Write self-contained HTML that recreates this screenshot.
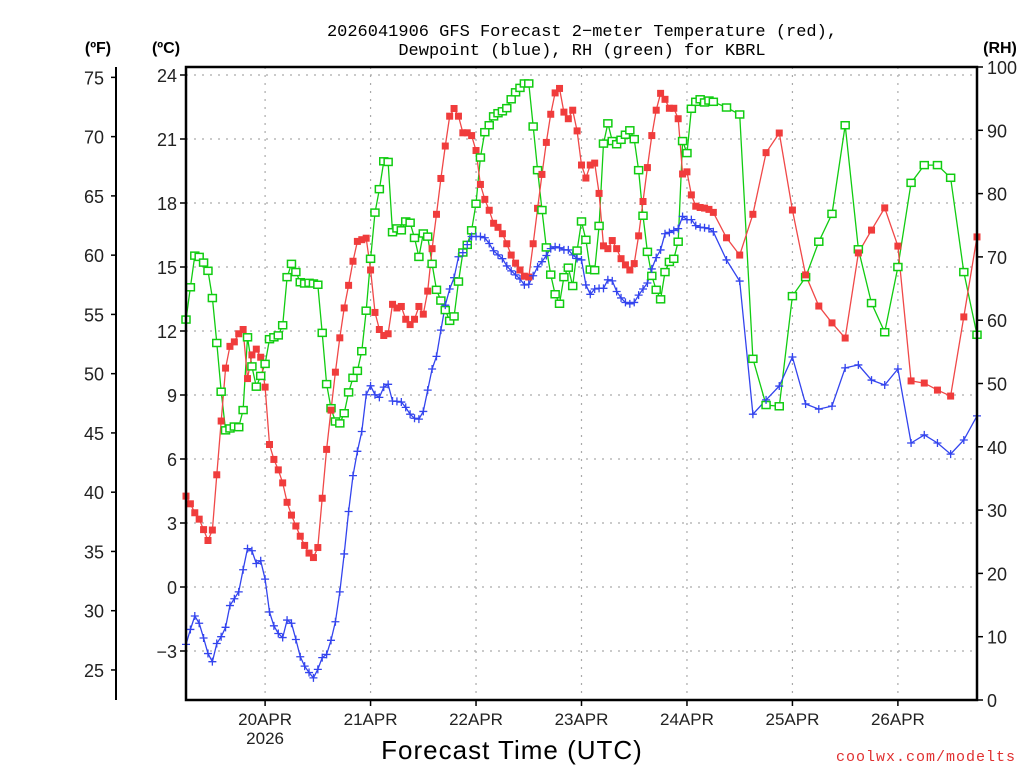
<!DOCTYPE html>
<html><head><meta charset="utf-8"><style>
html,body{margin:0;padding:0;background:#fff;}
svg{display:block;}
text{font-family:"Liberation Sans",sans-serif;}
</style></head><body>
<svg id="chart" width="1024" height="768" viewBox="0 0 1024 768" xmlns="http://www.w3.org/2000/svg">
<text x="582" y="36" text-anchor="middle" font-size="17" style="font-family:'Liberation Mono',monospace">2026041906 GFS Forecast 2−meter Temperature (red),</text>
<text x="582" y="55" text-anchor="middle" font-size="17" style="font-family:'Liberation Mono',monospace">Dewpoint (blue), RH (green) for KBRL</text>
<text x="98" y="53" text-anchor="middle" font-size="16" font-weight="bold">(ºF)</text>
<text x="166" y="53" text-anchor="middle" font-size="16" font-weight="bold">(ºC)</text>
<text x="1000" y="53" text-anchor="middle" font-size="16" font-weight="bold">(RH)</text>
<text x="512" y="759" text-anchor="middle" font-size="26" letter-spacing="1">Forecast Time (UTC)</text>
<text x="1016" y="761" text-anchor="end" font-size="15" fill="#e03030" letter-spacing="1" style="font-family:'Liberation Mono',monospace">coolwx.com/modelts</text>
<g id="grid"></g>
<g id="series"></g>
<g id="axes"></g>
</svg>
<script>
const dayLabels = ["20APR","21APR","22APR","23APR","24APR","25APR","26APR"];
const celsiusTicks = [-3,0,3,6,9,12,15,18,21,24];
const fahrenheitTicks = [25,30,35,40,45,50,55,60,65,70,75];
const rhTicks = [0,10,20,30,40,50,60,70,80,90,100];
const tempC = [4.26,3.90,3.48,3.18,2.69,2.18,2.67,5.26,7.78,10.26,11.28,11.49,11.87,12.07,9.77,10.88,11.15,10.77,9.37,6.68,5.98,5.49,4.88,3.97,3.37,2.86,2.38,1.95,1.59,1.38,1.85,4.16,6.45,8.29,10.07,11.68,13.08,14.14,15.27,16.2,16.28,16.35,14.86,12.87,12.07,11.79,
11.87,13.25,13.08,13.15,12.55,12.3,12.55,13.15,12.79,13.87,15.86,17.47,19.15,20.67,22.07,22.43,22.07,21.29,21.29,21.16,20.46,18.87,18.17,17.66,17.05,16.86,16.56,16.09,15.56,15.18,14.86,14.57,14.53,16.09,17.75,19.34,20.84,22.16,23.16,23.37,22.26,21.95,22.35,21.38,
19.78,19.17,19.78,19.87,18.45,15.99,15.86,16.24,15.86,15.39,15.1,14.86,15.16,16.46,18.07,19.66,21.16,22.35,23.14,22.86,22.44,22.44,21.95,19.36,19.46,18.38,17.85,17.79,17.76,17.7,17.56,
16.37,15.56,17.47,20.36,21.28,17.67,14.63,13.17,12.38,11.67,15.66,16.73,17.77,15.98,9.66,9.56,9.23,8.95,12.66,16.41];
const dewpointC = [-2.69,-1.99,-1.36,-1.70,-2.39,-3.12,-3.50,-2.65,-2.33,-1.89,-0.87,-0.55,-0.23,0.81,1.80,1.70,1.10,1.23,0.37,-1.17,-1.82,-2.18,-2.37,-1.55,-1.70,-2.46,-3.27,-3.71,-4.01,-4.26,-3.86,-3.31,-3.16,-2.50,-1.63,-0.23,1.55,3.54,5.22,6.36,7.29,9.01,9.43,9.01,8.89,9.37,
9.5,8.72,8.70,8.67,8.42,8.10,7.91,7.87,8.23,9.23,10.22,10.81,12.04,13.21,13.97,14.5,15.48,15.67,16.05,16.43,16.43,16.43,16.37,16.1,15.76,15.57,15.39,15.05,14.82,14.63,14.44,14.16,14.19,14.59,15.01,15.25,15.54,15.86,15.95,15.9,15.8,15.8,15.57,15.4,
15.33,14.16,13.72,13.97,14.0,14.0,14.4,14.35,13.85,13.55,13.34,13.27,13.34,13.68,13.97,14.25,14.91,15.44,15.8,16.56,16.62,16.71,16.8,17.37,17.22,17.22,16.94,16.86,16.84,16.8,16.65,
15.33,14.34,8.1,8.77,9.42,10.78,8.58,8.34,8.48,10.27,10.41,9.7,9.47,10.22,6.75,7.13,6.75,6.23,6.89,8.02];
const relHum = [60.1,65.2,70.2,70.0,69.1,67.8,63.5,56.4,48.7,42.6,42.9,43.2,43.1,45.8,57.3,52.7,49.5,51.2,53.1,57.0,57.3,57.6,59.2,66.8,68.9,67.6,66.0,65.8,65.9,65.8,65.6,58.0,49.9,46.1,44.0,43.7,45.3,48.6,50.9,52.0,55.1,61.5,69.7,77.0,80.7,85.1,
85.0,73.9,74.5,74.2,75.6,75.4,73.0,70.0,73.7,73.2,68.9,64.8,63.1,61.6,59.9,60.6,66.1,70.7,71.9,74.2,78.4,85.7,89.7,90.8,92.2,92.7,93.0,93.5,94.9,96.0,96.7,97.4,97.4,90.6,83.7,77.4,71.5,67.2,64.1,62.6,66.8,68.3,65.4,71.0,
75.6,72.7,68.0,67.9,74.9,87.9,91.1,88.3,87.8,88.5,89.3,90.0,88.6,83.7,76.5,70.8,67.0,64.8,63.3,67.6,69.2,69.7,72.4,88.3,86.4,93.4,94.5,94.9,94.4,94.7,94.5,
93.6,92.5,53.9,46.6,46.4,63.8,66.8,72.4,76.8,90.8,71.2,62.7,58.1,68.4,81.7,84.5,84.5,82.5,67.6,57.7];
const hours = [];
for (let h = 0; h <= 120; h++) hours.push(h);
for (let h = 123; h <= 180; h += 3) hours.push(h);

const L=186,R=977,T=67,B=700;
const pxPerHour=(R-L)/180;
function xH(h){return L+h*pxPerHour;}
function yC(c){return 587-c*(64/3);}
function yF(f){return yC((f-32)*5/9);}
function yRH(r){return B-(r/100)*(B-T);}
const NS="http://www.w3.org/2000/svg";
function mk(tag,attrs,parent){const e=document.createElementNS(NS,tag);for(const k in attrs)e.setAttribute(k,attrs[k]);parent.appendChild(e);return e;}
const grid=document.getElementById('grid'),series=document.getElementById('series'),axes=document.getElementById('axes');

celsiusTicks.forEach(c=>{const y=yC(c);
  const g=mk('line',{x1:L,x2:R,y1:y,y2:y,stroke:'#aaa','stroke-width':1.2,'stroke-dasharray':'2,6'},grid);
  
  
  const t=mk('line',{x1:L-6,x2:L,y1:y,y2:y,stroke:'#000','stroke-width':1.5},axes);
  
  
  const lb=mk('text',{x:L-9,y:y+7,'text-anchor':'end','font-size':18,fill:'#222'},axes);
  lb.textContent=(c<0?'−'+Math.abs(c):String(c));
  
  
});
fahrenheitTicks.forEach(f=>{const y=yF(f);
  const t=mk('line',{x1:111,x2:116,y1:y,y2:y,stroke:'#000','stroke-width':1.5},axes);
  
  
  const lb=mk('text',{x:104,y:y+7,'text-anchor':'end','font-size':18,fill:'#222'},axes);
  lb.textContent=String(f);
  
  
});
rhTicks.forEach(r=>{const y=yRH(r);
  const t=mk('line',{x1:R,x2:R+6,y1:y,y2:y,stroke:'#000','stroke-width':1.5},axes);
  
  
  const lb=mk('text',{x:987,y:y+7,'font-size':18,fill:'#222'},axes);
  lb.textContent=String(r);
  
  
});
dayLabels.forEach((d,i)=>{const x=xH(18+24*i);
  const g=mk('line',{x1:x,x2:x,y1:T,y2:B,stroke:'#aaa','stroke-width':1.2,'stroke-dasharray':'2,6'},grid);
  
  
  const t=mk('line',{x1:x,x2:x,y1:B,y2:B+6,stroke:'#000','stroke-width':1.5},axes);
  
  
  const lb=mk('text',{x:x,y:725,'text-anchor':'middle','font-size':17,fill:'#222'},axes);
  lb.textContent=d;
  
  
  if(i===0){const yl=mk('text',{x:x,y:744,'text-anchor':'middle','font-size':17,fill:'#222'},axes);
    yl.textContent='2026';
    
    }
});
const fa=mk('line',{x1:116,x2:116,y1:67,y2:700,stroke:'#000','stroke-width':2},axes);


const fr=mk('rect',{x:L,y:T,width:R-L,height:B-T,fill:'none',stroke:'#000','stroke-width':2.5},axes);



function drawLine(vals,yf,color,name){
  const pts=hours.map((h,i)=>xH(h).toFixed(1)+','+yf(vals[i]).toFixed(1)).join(' ');
  const p=mk('polyline',{points:pts,fill:'none',stroke:color,'stroke-width':1.3},series);
  
  
}
drawLine(relHum,yRH,'#11cc11','rh');
drawLine(tempC,yC,'#f04848','temperature');
drawLine(dewpointC,yC,'#3344ee','dewpoint');
hours.forEach((h,i)=>{const x=xH(h);
  const g=mk('rect',{x:x-4,y:yRH(relHum[i])-3.5,width:8,height:7,fill:'#fff',stroke:'#11cc11','stroke-width':1.5},series);
  
  
  const r=mk('rect',{x:x-3.5,y:yC(tempC[i])-3.5,width:7,height:7,fill:'#f03c3c'},series);
  
  
  const yb=yC(dewpointC[i]);
  const b=mk('path',{d:`M${x-4},${yb}H${x+4}M${x},${yb-4}V${yb+4}`,stroke:'#3344ee','stroke-width':1.3,fill:'none'},series);
  
  
});
</script>
</body></html>
